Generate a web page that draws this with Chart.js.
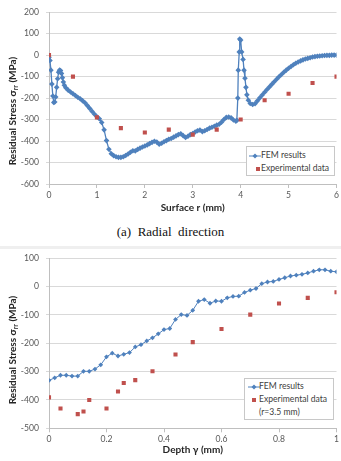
<!DOCTYPE html>
<html>
<head>
<meta charset="utf-8">
<script src="https://cdn.jsdelivr.net/npm/chart.js@4/dist/chart.umd.min.js"></script>
<style>
  html,body{margin:0;padding:0;background:#fff;}
  body{width:341px;height:461px;position:relative;overflow:hidden;font-family:Lato,"Open Sans",sans-serif;}
  .wrap{position:absolute;left:0;width:341px;}
  .ytitle{position:absolute;white-space:nowrap;font:bold 10px Lato,sans-serif;color:#262626;transform:translate(-50%,-50%) rotate(-90deg);}
  .ytitle sub{font-size:7px;vertical-align:-2px;line-height:0;}
  .legend{position:absolute;border:1px solid #c8c8c8;background:#fff;font:8.6px Lato,sans-serif;color:#404040;box-sizing:border-box;}
  .legend .row{position:absolute;left:0;white-space:nowrap;}
  .legend svg{position:absolute;}
  .caption{position:absolute;left:0;width:341px;text-align:center;font:13px "Liberation Serif","DejaVu Serif",serif;color:#111;white-space:pre;line-height:15px;}
  .band{position:absolute;left:0;width:341px;top:246px;height:3px;background:#efefef;}
</style>
</head>
<body>
<div class="band"></div>
<div class="wrap" style="top:0;height:216px;"><canvas id="c1"></canvas></div>
<div class="caption" style="top:224px;">(a)  Radial  direction</div>
<div class="wrap" style="top:246px;height:215px;"><canvas id="c2"></canvas></div>

<div class="ytitle" style="left:12px;top:111px;">Residual Stress σ<sub>rr</sub> (MPa)</div>
<div class="ytitle" style="left:12px;top:350px;">Residual Stress σ<sub>rr</sub> (MPa)</div>

<div class="legend" style="left:246px;top:146px;width:89px;height:30px;">
  <svg width="14" height="8" style="left:2px;top:5px;"><line x1="0" y1="4" x2="12" y2="4" stroke="#4f81bd" stroke-width="1"/><polygon points="6,1.5 8.5,4 6,6.5 3.5,4" fill="#4f81bd"/></svg>
  <div class="row" style="left:14px;top:3px;">FEM results</div>
  <svg width="14" height="8" style="left:2px;top:18px;"><rect x="7" y="2" width="4" height="4" fill="#c0504d"/></svg>
  <div class="row" style="left:14px;top:16px;">Experimental data</div>
</div>

<div class="legend" style="left:244px;top:378px;width:90px;height:42px;">
  <svg width="14" height="8" style="left:2px;top:4px;"><line x1="1" y1="4" x2="13" y2="4" stroke="#4f81bd" stroke-width="1"/><polygon points="7,1.5 9.5,4 7,6.5 4.5,4" fill="#4f81bd"/></svg>
  <div class="row" style="left:14px;top:2px;">FEM results</div>
  <svg width="14" height="8" style="left:2px;top:17px;"><rect x="5" y="2" width="4" height="4" fill="#c0504d"/></svg>
  <div class="row" style="left:14px;top:15px;">Experimental data</div>
  <div class="row" style="left:14px;top:28px;">(r=3.5 mm)</div>
</div>

<script>
// ---------- Chart (a): radial direction ----------
const radialFemR = [0.00,0.02,0.04,0.06,0.08,0.10,0.12,0.14,0.16,0.18,0.20,0.22,0.24,0.26,0.28,0.30,0.32,0.35,
  0.40,0.45,0.50,0.55,0.60,0.65,0.70,0.75,0.80,0.85,0.90,0.95,1.00,1.05,1.10,1.15,1.20,1.25,1.30,1.35,1.40,1.45,
  1.50,1.55,1.60,1.65,1.70,1.75,1.80,1.85,1.90,1.95,2.00,2.05,2.10,2.15,2.20,2.25,2.30,2.35,2.40,2.45,2.50,2.55,
  2.60,2.65,2.70,2.75,2.80,2.85,2.90,2.95,3.00,3.05,3.10,3.15,3.20,3.25,3.30,3.35,3.40,3.45,3.50,3.55,3.60,3.65,
  3.70,3.75,3.80,3.85,3.90,3.92,3.94,3.95,3.97,3.98,4.00,4.02,4.05,4.07,4.09,4.11,4.13,4.16,4.20,4.25,4.30,4.35,
  4.40,4.45,4.50,4.55,4.60,4.65,4.70,4.75,4.80,4.85,4.90,4.95,5.00,5.05,5.10,5.15,5.20,5.25,5.30,5.35,5.40,5.45,
  5.50,5.55,5.60,5.65,5.70,5.75,5.80,5.85,5.90,5.95,6.00];
const radialFemStress = [-10,-25,-70,-135,-190,-220,-218,-195,-150,-110,-80,-70,-72,-85,-105,-125,-140,-152,
  -163,-172,-180,-188,-196,-203,-212,-222,-235,-248,-262,-275,-287,-296,-314,-348,-398,-438,-459,-468,-473,-476,
  -476,-473,-467,-460,-452,-445,-446,-439,-433,-428,-423,-418,-412,-406,-401,-405,-415,-410,-403,-398,-392,-388,
  -382,-376,-370,-366,-375,-383,-378,-370,-365,-358,-352,-349,-356,-352,-346,-340,-336,-331,-326,-322,-312,-300,
  -290,-288,-292,-302,-308,-303,-200,-70,15,75,70,15,-20,-70,-108,-150,-185,-210,-225,-230,-226,-213,
  -199,-186,-173,-160,-148,-136,-124,-112,-101,-90,-80,-70,-61,-53,-45,-38,-32,-27,-22,-18,-15,-12,
  -9,-7,-5,-4,-3,-2,-1,-1,0,0,0];
const radialExpR = [0,0.5,1,1.5,2,2.5,3,3.5,4,4.5,5,5.5,6];
const radialExpStress = [0,-100,-290,-340,-360,-347,-370,-347,-300,-210,-180,-130,-100];
const radialXTicks = [0,1,2,3,4,5,6];
const radialXLabels = ['0','1','2','3','4','5','6'];
const radialYTicks = [-600,-500,-400,-300,-200,-100,0,100,200];
const radialYLabels = ['-600','-500','-400','-300','-200','-100','0','100','200'];

// ---------- Chart (b): depth direction ----------
const depthFemY = [0,0.02,0.04,0.06,0.08,0.10,0.12,0.14,0.16,0.18,0.20,0.22,0.24,0.26,0.28,0.30,0.32,0.34,0.36,0.38,
  0.40,0.42,0.44,0.46,0.48,0.50,0.52,0.54,0.56,0.58,0.60,0.62,0.64,0.66,0.68,0.70,0.72,0.74,0.76,0.78,
  0.80,0.82,0.84,0.86,0.88,0.90,0.92,0.94,0.96,0.98,1.00];
const depthFemStress = [-331,-322,-313,-313,-316,-316,-299,-299,-291,-276,-248,-235,-245,-239,-233,-213,-205,-192,-181,-167,
  -152,-148,-116,-99,-102,-84,-52,-46,-59,-51,-52,-40,-35,-34,-21,-13,-7,10,16,18,
  25,31,37,40,43,48,54,59,59,54,52];
const depthExpY = [0,0.04,0.10,0.12,0.14,0.20,0.24,0.26,0.30,0.36,0.44,0.50,0.60,0.70,0.80,0.90,1.00];
const depthExpStress = [-391,-430,-450,-441,-400,-430,-370,-340,-330,-299,-240,-196,-150,-99,-60,-40,-20];
const depthXTicks = [0,0.2,0.4,0.6,0.8,1];
const depthXLabels = ['0','0.2','0.4','0.6','0.8','1'];
const depthYTicks = [-500,-400,-300,-200,-100,0,100];
const depthYLabels = ['-500','-400','-300','-200','-100','0','100'];

const zip = (xs, ys) => xs.map((x, i) => ({x: x, y: ys[i]}));
const tickFont = {family: 'Lato, "Open Sans", sans-serif', size: 8.6};
const FEM_BLUE = '#4f81bd', EXP_RED = '#c0504d';

function makeChart(id, o) {
  return new Chart(document.getElementById(id), {
    type: 'scatter',
    data: {
      datasets: [
        {label: 'Experimental data', data: zip(o.expX, o.expY), pointStyle: 'rect', pointRadius: 2.9,
         pointBackgroundColor: EXP_RED, pointBorderWidth: 0, showLine: false, order: 0},
        {label: 'FEM results', data: zip(o.femX, o.femY), showLine: true, borderColor: FEM_BLUE, borderWidth: o.femLine,
         pointStyle: 'rectRot', pointRadius: o.femRadius, pointBackgroundColor: FEM_BLUE, pointBorderWidth: 0, order: 1}
      ]
    },
    options: {
      responsive: true, maintainAspectRatio: false, animation: false,
      layout: {padding: o.padding},
      plugins: {legend: {display: false}, tooltip: {enabled: false}},
      scales: {
        x: {
          type: 'linear', min: o.xTicks[0], max: o.xTicks[o.xTicks.length - 1],
          afterBuildTicks: s => { s.ticks = o.xTicks.map(v => ({value: v})); },
          afterFit: s => { s.height = o.xHeight; },
          ticks: {font: tickFont, color: '#595959', padding: 2, maxRotation: 0,
                  callback: (v, i) => o.xLabels[i]},
          grid: {drawOnChartArea: false, drawTicks: true, tickLength: 4, color: '#bfbfbf'},
          border: {display: true, color: '#bfbfbf'},
          title: {display: true, text: o.xTitle, color: '#262626',
                  font: {family: 'Lato, sans-serif', size: 10, weight: 'bold'},
                  padding: {top: 0, bottom: o.xTitlePad}}
        },
        y: {
          type: 'linear', min: o.yTicks[0], max: o.yTicks[o.yTicks.length - 1],
          afterBuildTicks: s => { s.ticks = o.yTicks.map(v => ({value: v})); },
          afterFit: s => { s.width = 49; },
          ticks: {font: tickFont, color: '#595959', padding: 7, callback: (v, i) => o.yLabels[i]},
          grid: {color: '#d9d9d9', drawTicks: true, tickLength: 3},
          border: {display: true, color: '#bfbfbf'}
        }
      }
    }
  });
}

makeChart('c1', {
  femX: radialFemR, femY: radialFemStress, expX: radialExpR, expY: radialExpStress,
  xTicks: radialXTicks, xLabels: radialXLabels, yTicks: radialYTicks, yLabels: radialYLabels,
  xTitle: 'Surface r (mm)', femRadius: 2.8, femLine: 1.3, xHeight: 32, xTitlePad: 2,
  padding: {top: 7, right: 3, left: 0, bottom: 0}
});
makeChart('c2', {
  femX: depthFemY, femY: depthFemStress, expX: depthExpY, expY: depthExpStress,
  xTicks: depthXTicks, xLabels: depthXLabels, yTicks: depthYTicks, yLabels: depthYLabels,
  xTitle: 'Depth γ (mm)', femRadius: 2.4, femLine: 1, xHeight: 32.7, xTitlePad: 5,
  padding: {top: 8, right: 3.5, left: 0, bottom: 0}
});
</script>
</body>
</html>
